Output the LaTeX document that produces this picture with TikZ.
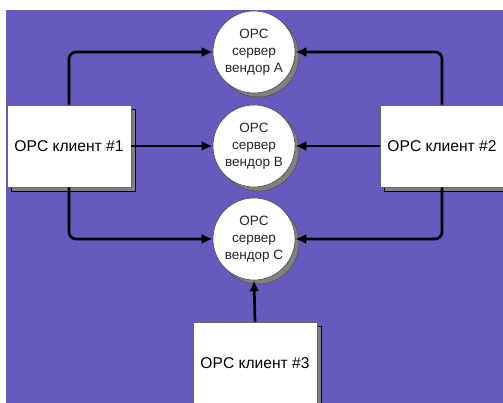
\documentclass[tikz,border=0pt]{standalone}
\usepackage{fontspec}
\setmainfont{Liberation Sans}
\usetikzlibrary{arrows.meta}
\definecolor{bgpurple}{RGB}{102,90,190}
\definecolor{shade}{RGB}{128,128,128}
\tikzset{
  client/.style={draw=black!60, line width=0.6pt, fill=white, minimum width=124pt,
    minimum height=82pt, inner sep=0pt, font=\fontsize{15.6}{18}\selectfont},
  server/.style={circle, draw=black!70, line width=0.6pt, fill=white, minimum size=82pt,
    inner sep=0pt, align=center, text=black!85, font=\fontsize{13.5}{17}\selectfont},
  conn/.style={line width=2.7pt, rounded corners=7pt, -{Latex[length=11pt,width=10pt]}},
}
\begin{document}
\begin{tikzpicture}[x=1pt, y=-1pt]
\useasboundingbox (0,0) rectangle (503,403);
\fill[white] (0,0) rectangle (503,403);
\fill[bgpurple] (6,10) rectangle (503,403);

% drop shadows of the client boxes and server discs
\foreach \cx/\cy in {69/146, 442/146, 255/363}
  \filldraw[fill=shade, draw=black, line width=0.6pt]
    (\cx-62+4,\cy-41+4) rectangle (\cx+62+4,\cy+41+4);
\foreach \cy in {52,146,239}
  \filldraw[fill=shade, draw=black!70, line width=0.5pt] (254+4,\cy+4) circle (41pt);

% servers
\node[server] (sA) at (254,52)  {OPC\\сервер\\вендор A};
\node[server] (sB) at (254,146) {OPC\\сервер\\вендор B};
\node[server] (sC) at (254,239) {OPC\\сервер\\вендор C};

% clients
\node[client] (c1) at (69,146)  {OPC клиент \#1};
\node[client] (c2) at (442,146) {OPC клиент \#2};
\node[client] (c3) at (255,363) {OPC клиент \#3};

% connections
\draw[conn] (c1.north) |- (sA.west);
\draw[conn] (c1.east) -- (sB.west);
\draw[conn] (c1.south) |- (sC.west);
\draw[conn] (c2.north) |- (sA.east);
\draw[conn] (c2.west) -- (sB.east);
\draw[conn] (c2.south) |- (sC.east);
\draw[conn] (c3.north) -- (sC.south);
\end{tikzpicture}
\end{document}
